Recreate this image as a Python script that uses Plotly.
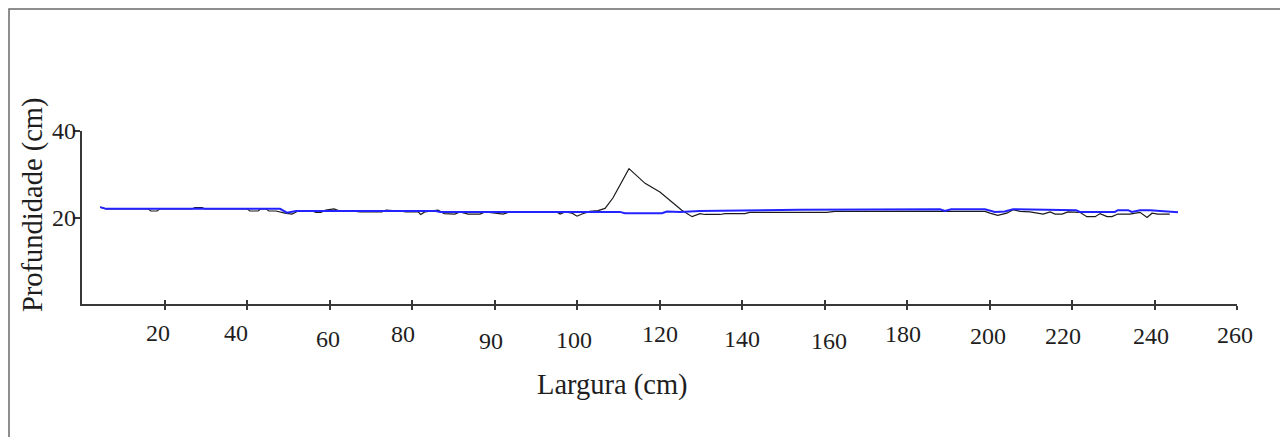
import plotly.graph_objects as go

# ---- data (x in axis units: 20 units per labelled tick) ----
black_x = [4.4, 5.8, 16.0, 16.7, 18.2, 18.9, 26.7, 27.4, 29.1, 29.8, 40.0, 40.7, 42.7, 43.4,
           44.6, 45.3, 47.0, 49.2, 50.9, 52.4, 55.8, 56.7, 57.9, 59.1, 61.1, 62.5, 66.4, 67.4,
           72.7, 73.7, 77.1, 78.5, 81.5, 82.1, 83.1, 86.3, 87.8, 90.4, 91.6, 93.6, 96.5, 97.7,
           102.1, 103.7, 115.1, 115.9, 117.1, 118.8, 120.0, 121.2, 123.1, 125.1, 126.8, 128.7,
           132.6, 136.5, 140.1, 145.4, 147.9, 149.8, 151.0, 154.7, 155.9, 160.7, 161.9, 180.6,
           182.5, 198.3, 206.8, 208.5, 218.9, 220.1, 222.0, 224.2, 225.7, 227.4, 229.8, 233.0,
           234.7, 235.9, 237.6, 239.0, 241.9, 243.6, 245.6, 246.8, 248.5, 249.7, 251.1, 254.0,
           256.5, 258.2, 259.4, 260.8, 263.7]
black_y = [22.4, 22.0, 22.0, 21.5, 21.5, 22.0, 22.0, 22.3, 22.3, 22.0, 22.0, 21.5, 21.5, 22.0,
           22.0, 21.5, 21.5, 21.0, 20.8, 21.5, 21.5, 21.2, 21.2, 21.7, 22.0, 21.5, 21.4, 21.3,
           21.3, 21.7, 21.5, 21.3, 21.3, 20.7, 21.3, 21.7, 20.9, 20.8, 21.3, 20.8, 20.8, 21.3,
           20.8, 21.3, 21.3, 20.8, 21.3, 21.0, 20.3, 20.8, 21.4, 21.6, 22.1, 24.5,
           31.3, 27.9, 25.9, 21.7, 20.2, 20.9, 20.7, 20.7, 20.9, 20.9, 21.2, 21.2,
           21.4, 21.4, 21.4, 21.3, 21.4, 21.0, 20.5, 21.0, 21.8, 21.4, 21.3, 20.8,
           21.3, 20.8, 20.8, 21.3, 21.2, 20.2, 20.2, 20.9, 20.2, 20.2, 20.8, 20.8,
           21.2, 20.0, 21.0, 20.8, 20.8]

blue_x = [4.4, 5.8, 48.0, 49.7, 51.9, 85.8, 86.8, 130.4, 131.6, 140.6, 141.8, 145.0, 149.8,
          174.0, 208.0, 209.2, 210.7, 218.9, 221.3, 223.7, 225.7, 241.0, 241.9, 250.4, 251.1,
          253.6, 254.5, 256.5, 258.9, 261.3, 265.7]
blue_y = [22.4, 22.0, 22.0, 21.1, 21.5, 21.5, 21.3, 21.3, 21.0, 21.0, 21.4, 21.3, 21.5,
          21.8, 21.9, 21.5, 21.9, 21.9, 21.3, 21.4, 21.9, 21.7, 21.3, 21.3, 21.7,
          21.7, 21.3, 21.7, 21.7, 21.5, 21.2]

tick_pos = [20, 40, 60, 80, 100, 120, 140, 160, 180, 200, 220, 240, 260, 280]
tick_labels = ["20", "40", "60", "80", "90", "100", "120", "140", "160", "180",
               "200", "220", "240", "260"]
y_ticks = [20, 40]

# ---- style (label offsets in px) ----
label_dx = [-7, -11, -2, -9, -4, -3, 0, 0, 4, -4, -2, -9, -4, -2]
label_dy = [29, 29, 35, 30, 37, 36, 30, 35, 37, 30, 32, 32, 32, 31]

OFF = 8                       # page body margin
W, H = 1288 - OFF, 437 - OFF
# plot area in screen px: x 82..1237, y 131..304
L, T = 82 - OFF, 131 - OFF
R = W - (1237 - OFF)
B = H - (304 - OFF)
pw, ph = W - L - R, H - T - B

def px_x(p):
    return (p - OFF - L) / pw

def px_y(p):
    return (H - B - (p - OFF)) / ph

SERIF = "Liberation Serif, Times New Roman, serif"
TXT = "#1e1e1e"
AX = "#383838"

fig = go.Figure()
fig.add_trace(go.Scatter(x=black_x, y=black_y, mode="lines",
                         line=dict(color="#1a1a1a", width=1.2), showlegend=False))
fig.add_trace(go.Scatter(x=blue_x, y=blue_y, mode="lines",
                         line=dict(color="#2323ff", width=2), showlegend=False))

fig.update_layout(
    width=W, height=H,
    margin=dict(l=L, r=R, t=T, b=B, pad=0),
    paper_bgcolor="white", plot_bgcolor="white",
    font=dict(family=SERIF, color=TXT),
    xaxis=dict(range=[0, 280], tickvals=tick_pos,
               showticklabels=False, ticks="outside", ticklen=4, tickwidth=1.5,
               tickcolor=AX, showline=True, linecolor=AX, linewidth=1.8,
               showgrid=False, zeroline=False),
    xaxis2=dict(range=[0, 280], tickvals=tick_pos, showticklabels=False,
                ticks="inside", ticklen=4, tickwidth=1.5, tickcolor=AX,
                overlaying="x", anchor="y", side="bottom", showline=False,
                showgrid=False, zeroline=False),
    yaxis=dict(range=[0, 40], tickvals=y_ticks, showticklabels=False,
               ticks="outside", ticklen=7, tickwidth=1.5, tickcolor=AX,
               showline=True, linecolor=AX, linewidth=1.8,
               showgrid=False, zeroline=False),
)

# invisible trace to bind xaxis2 (crossing tick marks)
fig.add_trace(go.Scatter(x=[0], y=[0], xaxis="x2", mode="markers",
                         marker=dict(opacity=0), showlegend=False, hoverinfo="skip"))

# x tick labels
for pos, lab, dx, dy in zip(tick_pos, tick_labels, label_dx, label_dy):
    fig.add_annotation(x=pos, y=0, xref="x", yref="y", text=lab, showarrow=False,
                       xanchor="center", yanchor="middle", xshift=dx, yshift=-dy,
                       font=dict(family=SERIF, size=24, color=TXT))

# y tick labels
for v in y_ticks:
    fig.add_annotation(x=px_x(78), y=v, xref="paper", yref="y", text=str(v),
                       showarrow=False, xanchor="right", yanchor="middle",
                       font=dict(family=SERIF, size=24, color=TXT))

# axis titles
fig.add_annotation(x=px_x(612), y=px_y(385), xref="paper", yref="paper",
                   text="Largura (cm)", showarrow=False, xanchor="center", yanchor="middle",
                   font=dict(family=SERIF, size=28.5, color=TXT))
fig.add_annotation(x=px_x(33), y=px_y(205), xref="paper", yref="paper",
                   text="Profundidade (cm)", showarrow=False, textangle=-90,
                   xanchor="center", yanchor="middle",
                   font=dict(family=SERIF, size=28.5, color=TXT))

# outer frame
fig.add_shape(type="rect", xref="paper", yref="paper",
              x0=px_x(9), x1=px_x(1283), y0=px_y(450), y1=px_y(9),
              line=dict(color="#6a6a6a", width=1.5), layer="below")

fig.write_html("out.html")
